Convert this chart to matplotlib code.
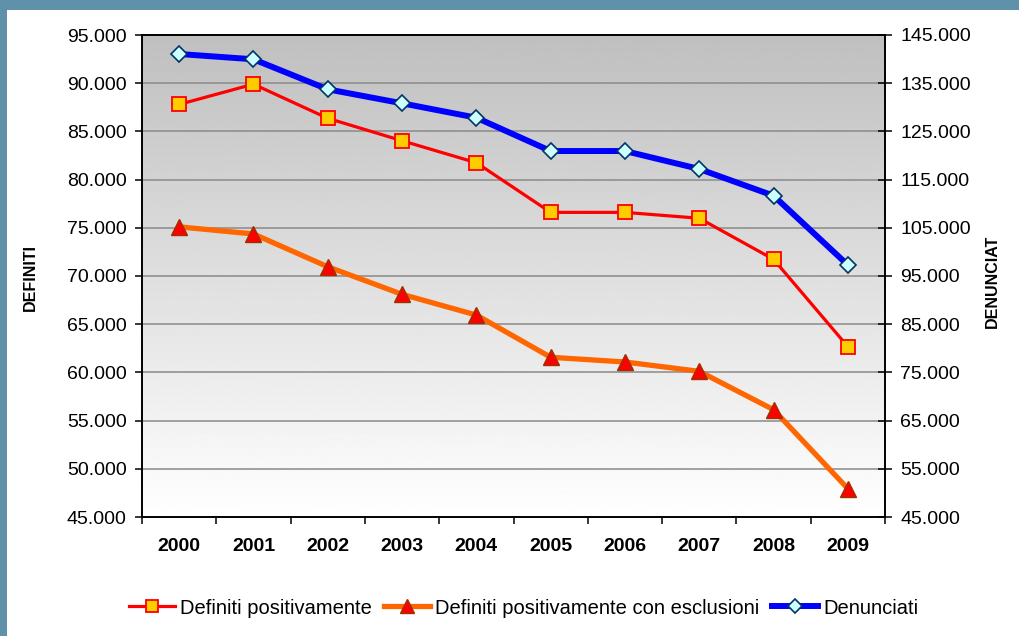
import matplotlib.pyplot as plt
import matplotlib.patches as mpatches
from matplotlib.ticker import FuncFormatter, FixedLocator
import numpy as np

plt.rcParams['font.family'] = ['Liberation Sans', 'DejaVu Sans']

# Data
anni = ['2000', '2001', '2002', '2003', '2004', '2005', '2006', '2007', '2008', '2009']
definiti_pos = [87800, 89900, 86360, 84030, 81750, 76600, 76600, 75990, 71730, 62670]
definiti_escl = [75100, 74360, 70960, 68100, 65950, 61570, 61080, 60110, 56130, 47940]
denunciati = [141060, 139960, 133730, 130830, 127840, 120930, 120930, 117200, 111660, 97280]


def it_fmt(v, pos):
    return f"{v:,.0f}".replace(',', '.')


fig = plt.figure(figsize=(10.19, 6.36), dpi=100, facecolor='#5f92aa')
# white slide panel
fig.patches.append(mpatches.Rectangle((7 / 1019, 0), 1, 626 / 636, transform=fig.transFigure,
                                      facecolor='white', edgecolor='none', zorder=-10))

ax = fig.add_axes([142 / 1019, 1 - 517 / 636, (885 - 142) / 1019, (517 - 35) / 636])
x = np.arange(len(anni))

# gray-to-white gradient in the plot area
grad = np.linspace(1.0, 0.75, 256).reshape(-1, 1)
ax.imshow(grad, extent=[0, 1, 0, 1], transform=ax.transAxes, aspect='auto',
          cmap='gray', vmin=0, vmax=1, zorder=0, origin='lower')

for v in range(50000, 95000, 5000):
    ax.axhline(v, color='#8a8a8a', lw=1.1, zorder=1)

l1, = ax.plot(x, definiti_pos, color='#ff0000', lw=2.3, marker='s', markersize=10.3,
              markerfacecolor='#ffcc00', markeredgecolor='#ff0000', markeredgewidth=1.3,
              zorder=3, label='Definiti positivamente')
l2, = ax.plot(x, definiti_escl, color='#ff6600', lw=3.8, marker='^', markersize=11.5,
              markerfacecolor='#ff0000', markeredgecolor='#993300', markeredgewidth=1.0,
              zorder=3, label='Definiti positivamente con esclusioni')

ax.set_xlim(-0.5, 9.5)
ax.set_ylim(45000, 95000)
ax.set_yticks(range(45000, 95001, 5000))
ax.yaxis.set_major_formatter(FuncFormatter(it_fmt))
ax.set_xticks(x)
ax.set_xticklabels(anni, fontweight='bold', fontsize=14)
ax.xaxis.set_minor_locator(FixedLocator(np.arange(-0.5, 10, 1)))
ax.tick_params(axis='x', which='major', length=0, pad=15)
ax.tick_params(axis='x', which='minor', length=5, width=1.1, direction='out')
ax.tick_params(axis='y', length=5, width=1.1, direction='out', labelsize=14, pad=6)
for s in ax.spines.values():
    s.set_linewidth(1.2)
    s.set_color('black')

ax2 = ax.twinx()
l3, = ax2.plot(x, denunciati, color='#0000ff', lw=4.3, marker='D', markersize=8.3,
               markerfacecolor='#ccffff', markeredgecolor='#003366', markeredgewidth=1.2,
               zorder=3, label='Denunciati')
ax2.set_ylim(45000, 145000)
ax2.set_yticks(range(45000, 145001, 10000))
ax2.yaxis.set_major_formatter(FuncFormatter(it_fmt))
ax2.tick_params(axis='y', length=10, width=1.1, direction='inout', labelsize=14, pad=6)
for s in ax2.spines.values():
    s.set_linewidth(1.2)
    s.set_color('black')

fig.text(30 / 1019, 1 - 277 / 636, 'DEFINITI', rotation=90, fontsize=11.5, fontweight='bold',
         ha='center', va='center')
fig.text(992 / 1019, 1 - 281 / 636, 'DENUNCIAT', rotation=90, fontsize=11.5, fontweight='bold',
         ha='center', va='center')

fig.legend(handles=[l1, l2, l3], loc='center', bbox_to_anchor=(523.5 / 1019, 1 - 608 / 636),
           ncol=3, frameon=False, fontsize=14.5, handlelength=2.3, handletextpad=0.25,
           columnspacing=0.6, markerscale=0.85, borderpad=0)

fig.savefig('out.png', dpi=100, facecolor=fig.get_facecolor())
